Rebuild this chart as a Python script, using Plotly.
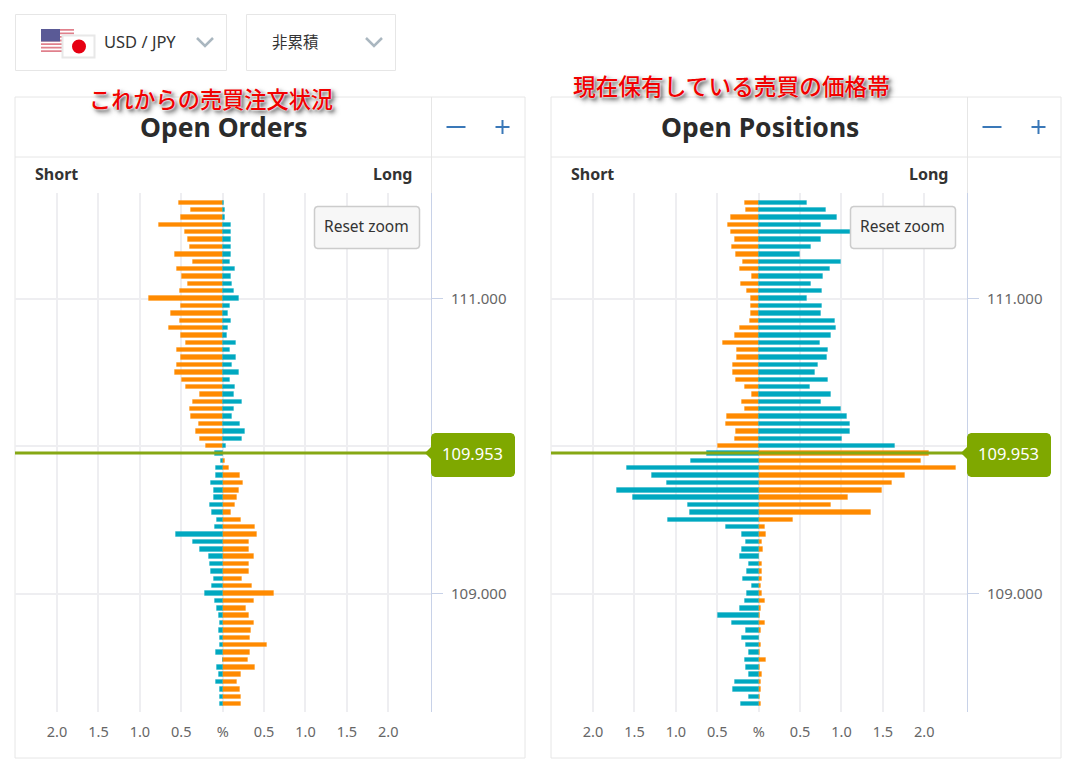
import plotly.graph_objects as go

W, H = 1083, 765
PRICE = 109.953
TOP_PRICE = 111.65
STEP = 0.05

# Price rows run from TOP_PRICE downwards, one row per STEP
orders_orange = [.527,.378,.503,.773,.455,.423,.395,.576,.362,.548,.487,.423,.515,.894,.503,.624,.515,.652,.503,.439,
                 .548,.503,.548,.576,.487,.439,.274,.362,.395,.378,.29,.318,.274,.197,0,
                 .03,.076,.21,.24,.193,.177,.149,.10,.22,.39,.42,.314,.314,.374,.314,.314,.238,.358,.62,.374,.282,.314,
                 .374,.342,.33,.54,.33,.30,.39,.22,.177,.21,.22,.22]
orders_teal = [.015,.03,.03,.10,.10,.10,.10,.10,.085,.149,.10,.117,.133,.193,.085,.068,.10,.068,.056,.161,
               .085,.161,.117,.193,.085,.149,.133,.238,.133,.117,.209,.27,.238,.04,.093,
               .016,.076,.076,.14,.105,.105,.153,.125,.064,.093,.563,.354,.274,.169,.153,.14,.105,.125,.213,.093,.064,.048,
               .032,.048,.032,.032,.076,0,.064,.048,.076,.032,.032,.032]
positions_orange = [.169,.153,.334,.366,.334,.29,.322,.274,.185,.229,.076,.213,.137,.093,.093,.093,.109,.229,.29,.427,
                    .258,.258,.306,.306,.274,.169,.076,.197,.169,.382,.395,.274,.29,.487,2.056,
                    1.96,2.38,1.77,1.61,1.49,1.08,.874,1.36,.419,.072,.089,.04,.056,.004,.04,.04,.04,.024,.04,.072,.024,.012,
                    .072,.024,.004,.024,.012,.089,.012,.04,.024,.024,.012,.024]
positions_teal = [.584,.813,.95,.753,1.15,.753,.632,.495,.994,.857,.781,.632,.765,.584,.765,.753,.918,.934,.874,.737,
                  .841,.829,.721,.676,.841,.616,.874,.753,.994,1.071,1.099,1.099,1.01,1.646,.624,
                  .82,1.59,1.288,1.107,1.71,1.513,.85,.833,1.091,.395,.197,.153,.197,.229,.121,.137,.185,.076,.137,.169,.229,.487,
                  .322,.153,.197,.153,.121,.169,.153,.121,.29,.306,.121,.213]

x_tick_vals = [-2.5, -2, -1.5, -1, -.5, 0, .5, 1, 1.5, 2]
x_tick_text = ["", "2.0", "1.5", "1.0", "0.5", "%", "0.5", "1.0", "1.5", "2.0"]
y_tick_vals = [109, 110, 111]
y_tick_text = ["109.000", "", "111.000"]
price_text = "109.953"
panel_titles = ["Open Orders", "Open Positions"]
notes = ["これからの売買注文状況", "現在保有している売買の価格帯"]

ORANGE, TEAL = "#ff8a00", "#00a8c0"
GREEN = "#7fa800"
BORDER = "#e6e6e6"
GRID = "#eeeef1"
AXIS = "#c8d2e8"
BLUE = "#3a78b8"
FONT = "Noto Sans"
CJK = "Noto Sans CJK JP"

rows = [TOP_PRICE - i * STEP for i in range(len(orders_orange))]


def px(v):
    return v / W


def py(v):
    return 1 - v / H


shapes, annotations = [], []


def rect(x0, y0, x1, y1, fill="rgba(0,0,0,0)", line=BORDER, lw=1, layer="below"):
    shapes.append(dict(type="rect", xref="paper", yref="paper", x0=px(x0), x1=px(x1), y0=py(y0), y1=py(y1),
                       fillcolor=fill, line=dict(color=line, width=lw), layer=layer))


def seg(x0, y0, x1, y1, color=BORDER, lw=1, layer="below"):
    shapes.append(dict(type="line", xref="paper", yref="paper", x0=px(x0), x1=px(x1), y0=py(y0), y1=py(y1),
                       line=dict(color=color, width=lw), layer=layer))


def path(points, fill="rgba(0,0,0,0)", line=None, lw=0, layer="above", close=True):
    d = "M" + " L".join(f"{px(a):.5f},{py(b):.5f}" for a, b in points) + (" Z" if close else "")
    shapes.append(dict(type="path", xref="paper", yref="paper", path=d, fillcolor=fill, layer=layer,
                       line=dict(color=line or "rgba(0,0,0,0)", width=lw)))


def rounded(x0, y0, x1, y1, r, extra_left=None):
    pts = [(x0 + r, y0), (x1 - r, y0), (x1 - r * .3, y0 + r * .3), (x1, y0 + r), (x1, y1 - r),
           (x1 - r * .3, y1 - r * .3), (x1 - r, y1), (x0 + r, y1), (x0 + r * .3, y1 - r * .3), (x0, y1 - r)]
    if extra_left:
        pts += extra_left
    pts += [(x0, y0 + r), (x0 + r * .3, y0 + r * .3)]
    return pts


def text(x, y, s, size, color="#333333", bold=False, family=FONT, anchor="center", shadow=None, weight=None):
    font = dict(family=family, size=size, color=color, weight=weight or (700 if bold else 400))
    if shadow:
        font["shadow"] = shadow
    annotations.append(dict(xref="paper", yref="paper", x=px(x), y=py(y), text=s, showarrow=False, font=font,
                            xanchor=anchor, yanchor="middle", align=anchor))


fig = go.Figure()
panels = [(15, orders_orange, orders_teal, "x", "y", "xaxis", "yaxis"),
          (551, positions_orange, positions_teal, "x2", "y2", "xaxis2", "yaxis2")]

for p, (left, orange, teal, xa, ya, xkey, ykey) in enumerate(panels):
    # signed values: above the price, short orange / long teal; below, the sides swap
    orange_signed = [-v if r > PRICE else v for v, r in zip(orange, rows)]
    teal_signed = [v if r > PRICE else -v for v, r in zip(teal, rows)]
    for vals, col in ((orange_signed, ORANGE), (teal_signed, TEAL)):
        rgba = "rgba(255,138,0,.3)" if col == ORANGE else "rgba(0,168,192,.3)"
        fig.add_trace(go.Bar(x=vals, y=rows, orientation="h", width=0.03, xaxis=xa, yaxis=ya,
                             marker=dict(color=col, line=dict(color=rgba, width=1)), showlegend=False))

    fig.update_layout({
        xkey: dict(domain=[px(left), px(left + 416)], range=[-2.508, 2.516], tickmode="array", tickvals=x_tick_vals,
                   ticktext=x_tick_text, showgrid=True, gridcolor=GRID, gridwidth=1.5, zeroline=False, showline=False,
                   ticks="", ticklabelstandoff=9, tickfont=dict(family=FONT, size=14.5, color="#666666"),
                   anchor=ya, fixedrange=True),
        ykey: dict(domain=[py(712), py(193)], range=[108.197, 111.716], tickmode="array", tickvals=y_tick_vals,
                   ticktext=y_tick_text, side="right", anchor=xa, showgrid=True, gridcolor=GRID, gridwidth=1.5,
                   zeroline=False, showline=True, linecolor=AXIS, linewidth=1, ticks="outside", ticklen=11,
                   tickcolor=AXIS, tickwidth=1, tickfont=dict(family=FONT, size=15, color="#666666"),
                   ticklabelstandoff=5, fixedrange=True),
    })

    # panel frame
    rect(left, 97, left + 510, 758)
    seg(left, 157, left + 510, 157)
    seg(left + 416.5, 97, left + 416.5, 193)
    text(left + 209, 127, panel_titles[p], 26.5, "#2b2b2b", bold=True)
    text(left + 18, 174, "Short", 16, "#333333", bold=True, anchor="left")
    text(left + 399, 174, "Long", 16, "#333333", bold=True, anchor="right")
    # zoom controls
    seg(left + 431.5, 127, left + 450.5, 127, BLUE, 2)
    seg(left + 480.5, 127, left + 494.5, 127, BLUE, 2)
    seg(left + 487.5, 120, left + 487.5, 134, BLUE, 2)
    # reset zoom button
    path(rounded(left + 299.5, 206.5, left + 404.5, 248.5, 3), "#f7f7f7", "#cccccc", 1.5)
    text(left + 351.5, 226, "Reset zoom", 15.5, "#333333")
    # current price line and badge
    shapes.append(dict(type="line", xref=f"{xa} domain", yref=ya, x0=0, x1=1, y0=PRICE, y1=PRICE,
                       line=dict(color="#86a814", width=3), layer="above"))
    path(rounded(left + 416, 433, left + 500, 477, 4,
                 extra_left=[(left + 416, 459), (left + 410, 453), (left + 416, 447)]), GREEN)
    text(left + 457.5, 453, price_text, 16.5, "#ffffff")

# selector boxes
rect(15.5, 14.5, 226.5, 70.5)
rect(246.5, 14.5, 395.5, 70.5)
text(102, 41.5, "USD / JPY", 16.5, "#333333", anchor="left")
text(270, 41, "非累積", 15.5, "#333333", family=CJK, anchor="left")
for cx in (205, 374):
    path([(cx - 8, 38), (cx, 46), (cx + 8, 38)], line="#aab7c0", lw=2.5, close=False)

# flags
for i in range(7):
    y0 = 29 + i * 23 / 6.5
    rect(41, y0, 74, y0 + 23 / 13, fill="#e0808c", line="rgba(0,0,0,0)", lw=0)
rect(41, 29, 60, 41.5, fill="#5a5a96", line="rgba(0,0,0,0)", lw=0)
rect(62.5, 35.5, 94.5, 57.5, fill="#ffffff", line="#e8e8e8", lw=2)
shapes.append(dict(type="circle", xref="paper", yref="paper", x0=px(72), x1=px(86), y0=py(39.5), y1=py(53.5),
                   fillcolor="#e60012", line=dict(width=0)))

# red overlay notes
halo = "0 0 2px #ffffff, 0 0 2px #ffffff, 3px 3px 5px rgba(0,0,0,.6), 2px 2px 3px rgba(0,0,0,.35)"
text(210.5, 97.5, notes[0], 22.2, "#f00000", family=CJK, shadow=halo, weight=500)
text(731, 85.5, notes[1], 22.7, "#f00000", family=CJK, shadow=halo, weight=500)

fig.update_layout(width=W, height=H, margin=dict(l=0, r=0, t=0, b=0), paper_bgcolor="#ffffff",
                  plot_bgcolor="#ffffff", barmode="overlay", bargap=0, showlegend=False,
                  shapes=shapes, annotations=annotations, hovermode=False)
fig.write_html("out.html", config=dict(displayModeBar=False),
               post_script="document.body.style.margin='0';document.body.style.overflow='hidden';")
